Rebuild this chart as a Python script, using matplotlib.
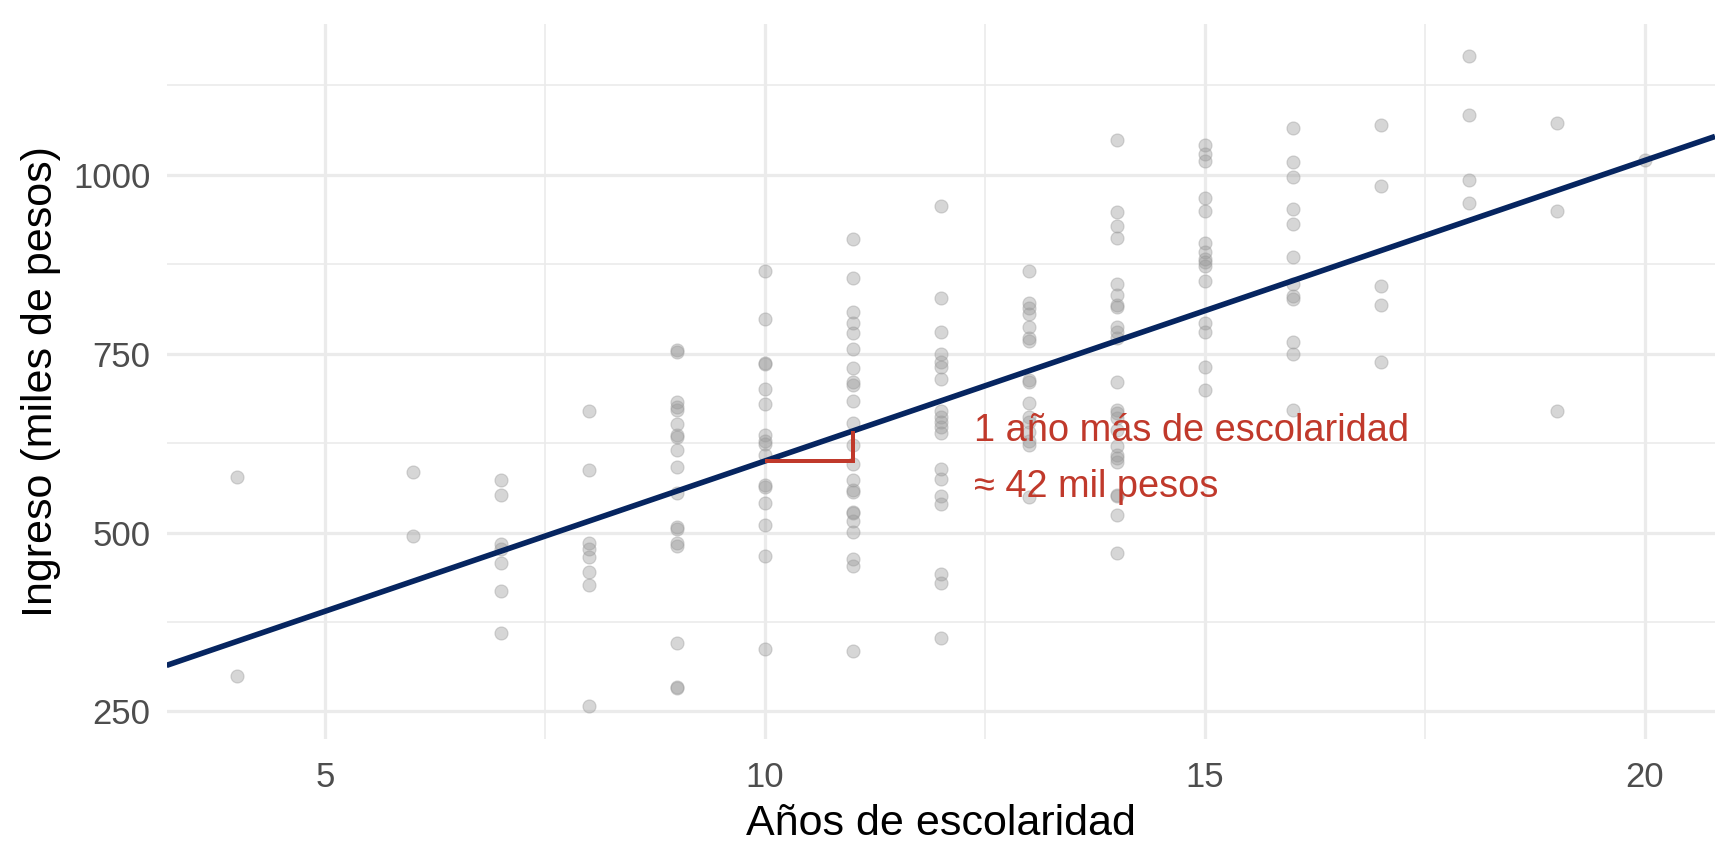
import matplotlib
matplotlib.use("Agg")
import matplotlib.pyplot as plt
import numpy as np

plt.rcParams['font.family'] = ['Liberation Sans', 'DejaVu Sans']

# ---- data ----
anios = [4, 6, 7, 8, 9, 10, 11, 12, 13, 14, 15, 16, 17, 18, 19, 20]
ingreso_por_anio = [
    [577, 300],
    [585, 495],
    [574, 552, 484, 477, 457, 419, 360],
    [670, 587, 486, 477, 466, 445, 427, 257],
    [755, 752, 683, 676, 671, 652, 637, 634, 616, 592, 556, 508, 505, 486, 481, 346, 284, 283],
    [866, 798, 737, 736, 700, 680, 637, 628, 624, 608, 566, 563, 541, 510, 467, 337],
    [910, 856, 808, 793, 779, 757, 730, 711, 706, 684, 653, 622, 596, 574, 560, 557, 529,
     527, 516, 501, 463, 453, 335],
    [957, 828, 781, 750, 739, 731, 715, 670, 661, 654, 647, 639, 589, 575, 551, 540, 442,
     429, 353],
    [865, 821, 814, 805, 788, 772, 768, 713, 710, 681, 662, 655, 640, 628, 622, 550],
    [1048, 948, 928, 911, 847, 832, 818, 815, 787, 781, 772, 710, 672, 667, 660, 644, 621,
     608, 604, 598, 553, 551, 525, 471],
    [1041, 1029, 1019, 968, 949, 904, 892, 883, 878, 872, 851, 793, 780, 731, 699],
    [1065, 1018, 997, 952, 931, 885, 847, 830, 827, 766, 749, 672],
    [1069, 984, 845, 818, 739],
    [1166, 1084, 993, 960],
    [1073, 949, 670],
    [1020],
]
# fitted line
intercepto = 180
pendiente = 42
# annotation
x_ref = 10
texto_1 = "1 año más de escolaridad"
texto_2 = "≈ 42 mil pesos"

x_ticks = [5, 10, 15, 20]
y_ticks = [250, 500, 750, 1000]

x = np.array([a for a, vals in zip(anios, ingreso_por_anio) for _ in vals], dtype=float)
y = np.array([v for vals in ingreso_por_anio for v in vals], dtype=float)

fig = plt.figure(figsize=(12, 6), dpi=144)
ax = fig.add_axes([0.0964, 0.1447, 0.9925 - 0.0964, 0.9728 - 0.1447])

xr = x.max() - x.min()
yr = y.max() - y.min()
xlim = (x.min() - 0.05 * xr, x.max() + 0.05 * xr)
ylim = (y.min() - 0.05 * yr, y.max() + 0.05 * yr)

grid_col = '#EBEBEB'
for v in [7.5, 12.5, 17.5]:
    ax.axvline(v, color=grid_col, lw=0.8, zorder=0)
for v in [375, 625, 875, 1125]:
    ax.axhline(v, color=grid_col, lw=0.8, zorder=0)
for v in x_ticks:
    ax.axvline(v, color=grid_col, lw=1.6, zorder=0)
for v in y_ticks:
    ax.axhline(v, color=grid_col, lw=1.6, zorder=0)

ax.scatter(x, y, s=42, color='#999999', alpha=0.4, edgecolors='#999999',
           linewidths=0.6, zorder=2)

xs = np.array(xlim)
ax.plot(xs, intercepto + pendiente * xs, color='#062560', lw=2.8, zorder=3,
        solid_capstyle='butt')

y0 = intercepto + pendiente * x_ref
ax.plot([x_ref, x_ref + 1, x_ref + 1], [y0, y0, y0 + pendiente], color='#C0392B',
        lw=2.0, zorder=4, solid_joinstyle='miter', solid_capstyle='butt')

ax.text(12.38, 628, texto_1, color='#C0392B', fontsize=19, va='baseline', ha='left')
ax.text(12.38, 550, texto_2, color='#C0392B', fontsize=19, va='baseline', ha='left')

ax.set_xlim(xlim)
ax.set_ylim(ylim)
ax.set_xticks(x_ticks)
ax.set_yticks(y_ticks)
ax.tick_params(length=0, labelsize=17.3, labelcolor='#4D4D4D')
ax.tick_params(axis='x', pad=11)
ax.tick_params(axis='y', pad=8)
for s in ax.spines.values():
    s.set_visible(False)

ax.set_xlabel("Años de escolaridad", fontsize=21.5, labelpad=5)
ax.set_ylabel("Ingreso (miles de pesos)", fontsize=21.5, labelpad=6)

fig.savefig("out.png", dpi=144, facecolor='white')
